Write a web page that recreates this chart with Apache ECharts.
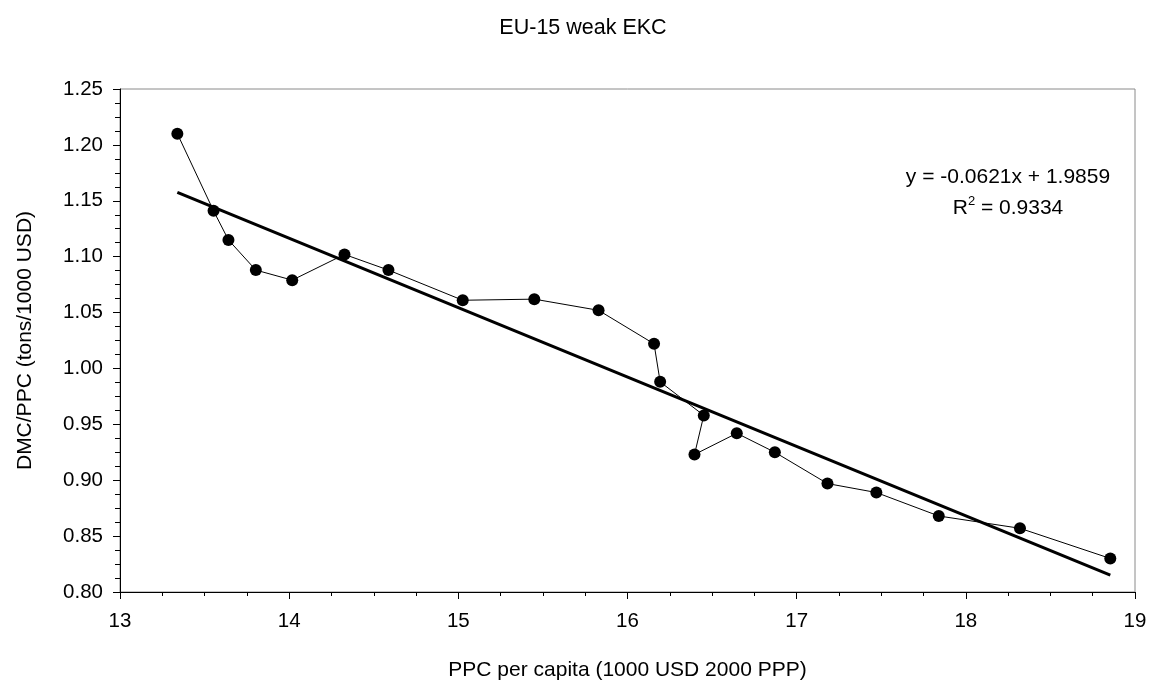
<!DOCTYPE html>
<html>
<head>
<meta charset="utf-8">
<script src="https://cdn.jsdelivr.net/npm/echarts@6/dist/echarts.min.js"></script>
<style>
html,body{margin:0;padding:0;background:#fff;}
#chart{width:1151px;height:686px;}
</style>
</head>
<body>
<div id="chart"></div>
<script>
// Data, in time order
const ppcPerCapita = [13.339, 13.553, 13.641, 13.803, 14.018, 14.327, 14.587, 15.026, 15.449, 15.829, 16.157, 16.193, 16.451, 16.396, 16.646, 16.871, 17.182, 17.471, 17.840, 18.320, 18.854];
const dmcPerPpc    = [1.210, 1.141, 1.115, 1.088, 1.079, 1.102, 1.088, 1.061, 1.062, 1.052, 1.022, 0.988, 0.958, 0.923, 0.942, 0.925, 0.897, 0.889, 0.868, 0.857, 0.830];

// Linear trend shown on the chart
const trendSlope = -0.0621;
const trendIntercept = 1.9859;
const trendR2 = 0.9334;

const titleText = 'EU-15 weak EKC';
const xName = 'PPC per capita (1000 USD 2000 PPP)';
const yName = 'DMC/PPC (tons/1000 USD)';

const font = 'Arial, "Liberation Sans", sans-serif';

const points = ppcPerCapita.map((x, i) => [x, dmcPerPpc[i]]);
const xMin = Math.min(...ppcPerCapita), xMax = Math.max(...ppcPerCapita);
const trend = [xMin, xMax].map(x => [x, trendSlope * x + trendIntercept]);

const chart = echarts.init(document.getElementById('chart'), null, {renderer: 'canvas'});
chart.setOption({
  backgroundColor: '#fff',
  animation: false,
  textStyle: {fontFamily: font, color: '#000'},
  title: {
    text: titleText,
    left: 578, top: 12, textAlign: 'center',
    textStyle: {fontFamily: font, fontSize: 21.5, fontWeight: 'normal', color: '#000'}
  },
  grid: {
    left: 120, right: 16, top: 89, bottom: 94,
    show: true, borderColor: '#8a8a8a', borderWidth: 1, backgroundColor: '#fff'
  },
  xAxis: {
    type: 'value', min: 13, max: 19, interval: 1,
    name: xName, nameLocation: 'middle', nameGap: 68,
    nameTextStyle: {fontFamily: font, fontSize: 21, color: '#000'},
    axisLine: {show: true, onZero: false, lineStyle: {color: '#000', width: 1}},
    axisTick: {show: true, inside: false, length: 7, lineStyle: {color: '#000'}},
    minorTick: {show: true, splitNumber: 4, length: 4, lineStyle: {color: '#000'}},
    axisLabel: {margin: 19, fontFamily: font, fontSize: 20.5, color: '#000'},
    splitLine: {show: false}
  },
  yAxis: {
    type: 'value', min: 0.8, max: 1.25, interval: 0.05,
    name: yName, nameLocation: 'middle', nameGap: 84,
    nameTextStyle: {fontFamily: font, fontSize: 21, color: '#000'},
    axisLine: {show: true, onZero: false, lineStyle: {color: '#000', width: 1}},
    axisTick: {show: true, inside: false, length: 7, lineStyle: {color: '#000'}},
    minorTick: {show: true, splitNumber: 4, length: 5, lineStyle: {color: '#000'}},
    axisLabel: {margin: 17, fontFamily: font, fontSize: 20.5, color: '#000',
      formatter: v => v.toFixed(2)},
    splitLine: {show: false}
  },
  series: [
    {
      type: 'line', name: 'trend', data: trend,
      showSymbol: false, symbol: 'none', z: 2,
      lineStyle: {color: '#000', width: 3}
    },
    {
      type: 'line', name: 'EU-15', data: points,
      symbol: 'circle', symbolSize: 12, z: 3,
      itemStyle: {color: '#000', borderWidth: 0},
      lineStyle: {color: '#000', width: 1}
    }
  ],
  graphic: [
    {
      type: 'text', x: 1008, y: 177, z: 10,
      style: {
        text: 'y = ' + trendSlope.toFixed(4) + 'x + ' + trendIntercept.toFixed(4),
        align: 'center', verticalAlign: 'middle',
        font: '21px ' + font, fill: '#000'
      }
    },
    {
      type: 'text', x: 1008, y: 208, z: 10,
      style: {
        text: '{n|R}{s|2}{n| = ' + trendR2.toFixed(4) + '}',
        align: 'center', verticalAlign: 'middle',
        font: '21px ' + font, fill: '#000',
        rich: {
          n: {fontFamily: font, fontSize: 21, fill: '#000', lineHeight: 26},
          s: {fontFamily: font, fontSize: 13, fill: '#000', lineHeight: 26, verticalAlign: 'top'}
        }
      }
    }
  ]
});
</script>
</body>
</html>
